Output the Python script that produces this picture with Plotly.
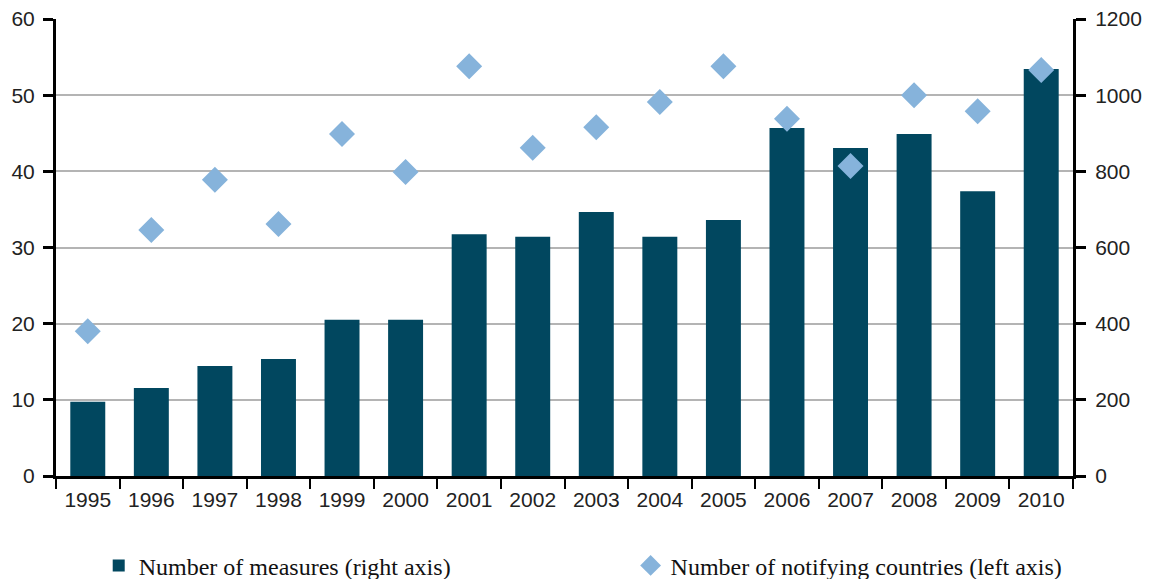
import plotly.graph_objects as go

# данные
years = [str(y) for y in range(1995, 2011)]
measures = [195, 231, 289, 307, 410, 410, 635, 628, 693, 628, 672, 914, 861, 898, 748, 1069]
countries = [19.0, 32.3, 38.9, 33.1, 44.9, 39.9, 53.8, 43.1, 45.8, 49.1, 53.8, 46.9, 40.7, 50.0, 47.9, 53.3]

BAR_COLOR = '#01475F'
DIAMOND_COLOR = '#86B3DB'
TICK_FONT = dict(family='Liberation Sans, Arial', size=21, color='#222222')
LEGEND_FONT = dict(family='Liberation Serif, Times New Roman', size=24, color='#111111')

fig = go.Figure()

# Столбцы — базовая ось (правая)
fig.add_trace(go.Bar(
    x=years, y=measures,
    marker=dict(color=BAR_COLOR, line=dict(width=0)),
    name='Number of measures (right axis)',
    yaxis='y', legend='legend'
))

# Ромбы — наложенная ось (левая), рисуются поверх столбцов
fig.add_trace(go.Scatter(
    x=years, y=countries,
    mode='markers',
    marker=dict(symbol='diamond', size=20, color=DIAMOND_COLOR),
    name='Number of notifying countries (left axis)',
    yaxis='y2', legend='legend2'
))

# страница имеет отступ 8px у body, поэтому фигура чуть меньше окна
fig.update_layout(
    width=1143, height=571,
    margin=dict(l=48, r=78, t=11, b=103),
    plot_bgcolor='white', paper_bgcolor='white',
    bargap=0.45,
    showlegend=True,
    xaxis=dict(
        type='category', range=[-0.5, 15.5], automargin=False,
        showline=True, linecolor='black', linewidth=3,
        ticks='outside', tickson='boundaries', ticklen=10, tickwidth=2, tickcolor='black',
        tickfont=TICK_FONT, ticklabelstandoff=3, showgrid=False,
    ),
    yaxis=dict(
        side='right', range=[0, 1200], dtick=200, automargin=False,
        showline=True, linecolor='black', linewidth=3,
        ticks='outside', ticklen=10, tickwidth=3, tickcolor='black',
        tickfont=TICK_FONT, ticklabelstandoff=5, ticklabeloverflow='allow',
        showgrid=True, gridcolor='#B4B4B4', gridwidth=1.5,
        zeroline=False,
    ),
    yaxis2=dict(
        side='left', overlaying='y', range=[0, 60], dtick=10, automargin=False,
        showline=True, linecolor='black', linewidth=3,
        ticks='outside', ticklen=10, tickwidth=3, tickcolor='black',
        tickfont=TICK_FONT, ticklabelstandoff=4, ticklabeloverflow='allow',
        showgrid=False, zeroline=False,
    ),
    legend=dict(
        x=0.042, y=0.023, yref='container', xanchor='left', yanchor='middle',
        font=LEGEND_FONT, bgcolor='rgba(0,0,0,0)',
    ),
    legend2=dict(
        x=0.565, y=0.023, yref='container', xanchor='left', yanchor='middle',
        font=LEGEND_FONT, bgcolor='rgba(0,0,0,0)',
    ),
)

fig.write_html("out.html")
